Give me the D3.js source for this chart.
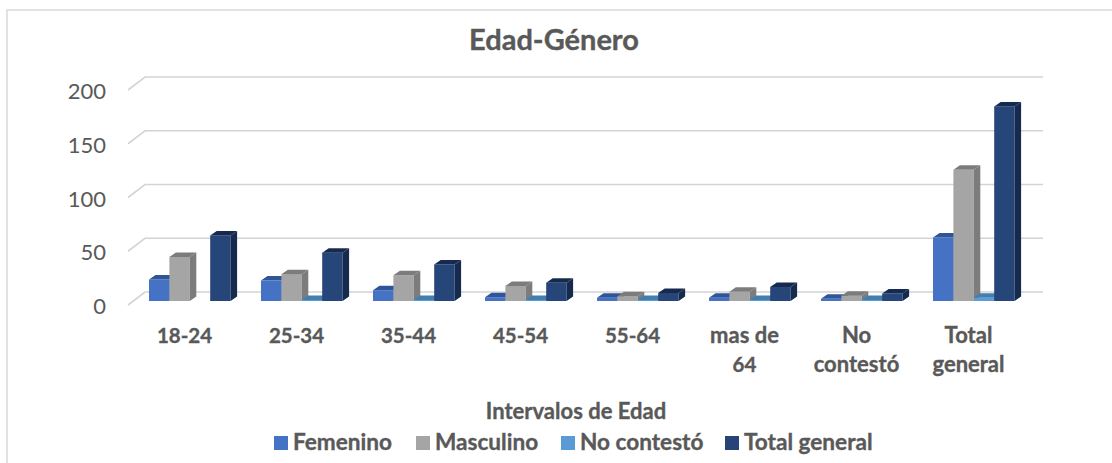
<!DOCTYPE html>
<html>
  <head>
    <meta charset="utf-8" />
    <title>Edad-Género</title>
    <script src="https://d3js.org/d3.v7.min.js"></script>
    <style>
      body { margin: 0; background: #fff; overflow: hidden; }
      svg { display: block; }
      text { font-family: Lato, "Open Sans", sans-serif; fill: #595959; }
      .bold { font-weight: 700; stroke: #595959; stroke-width: 0.35px; }
    </style>
  </head>
  <body>
    <svg id="chart" width="1112" height="463"></svg>
    <script>
      // values
      var categories = ["18-24", "25-34", "35-44", "45-54", "55-64", "mas de 64", "No contestó", "Total general"];
      var seriesNames = ["Femenino", "Masculino", "No contestó", "Total general"];
      var femenino = [20, 19, 10, 3.5, 3, 3, 2, 59];
      var masculino = [41, 25, 24, 14, 4.5, 8.5, 5, 122];
      var noContesto = [0, 1, 1, 1, 1, 1, 1, 3];
      var totalGeneral = [61, 45, 34, 17, 7.5, 13, 7, 181];
      var yTicks = [0, 50, 100, 150, 200];

      var seriesValues = [femenino, masculino, noContesto, totalGeneral];
      // front, top, side colours of each series
      var seriesColors = [
        ["#4472c4", "#2f5597", "#2f5597"],
        ["#a5a5a5", "#7c7c7c", "#7c7c7c"],
        ["#5b9bd5", "#3f7fb0", "#3f7fb0"],
        ["#264478", "#172c50", "#172c50"]
      ];

      var svg = d3.select("#chart");

      // the original is a soft, slightly blurred picture
      svg.append("filter").attr("id", "soft")
        .append("feGaussianBlur").attr("stdDeviation", 0.5);

      // chart frame, its right and bottom edges fall outside the picture
      svg.append("rect")
        .attr("x", 7).attr("y", 10)
        .attr("width", 1120).attr("height", 470)
        .attr("fill", "#fff").attr("stroke", "#d9d9d9").attr("stroke-width", 1.5);

      svg.append("text")
        .attr("class", "bold")
        .attr("x", 554).attr("y", 50)
        .attr("text-anchor", "middle")
        .style("font-size", "29px")
        .text("Edad-Género");

      var x = d3.scaleBand().domain(categories).range([128.5, 1024.5]).padding(0);
      var y = d3.scaleLinear().domain([0, 200]).range([301, 86]);

      // 3d offsets: floor depth of the wall, and depth of one bar
      var wallDx = 17, wallDy = -13;
      var barDx = 6.5, barDy = -4.5;
      var barWidth = 20.4;
      var wallX0 = 128, wallX1 = 1043;

      var grid = svg.append("g").attr("filter", "url(#soft)");
      yTicks.forEach(function(t) {
        var front = y(t) + 4;
        grid.append("path")
          .attr("d", "M" + wallX0 + "," + front + "L" + (wallX0 + wallDx) + "," + (front + wallDy) + "L" + wallX1 + "," + (front + wallDy))
          .attr("fill", "none").attr("stroke", "#d4d4d4").attr("stroke-width", 1.6);
        svg.append("text")
          .attr("x", 106).attr("y", front + 9)
          .attr("text-anchor", "end")
          .style("font-size", "22px")
          .text(t);
      });

      // bars, back to front within a group
      var bars = svg.append("g").attr("filter", "url(#soft)");
      categories.forEach(function(cat, c) {
        seriesValues.forEach(function(values, s) {
          var v = values[c];
          if (v <= 0) return;
          var x0 = x(cat) + 20.5 + s * barWidth;
          var x1 = x0 + barWidth;
          var y0 = y(0);
          var yT = y(v);
          var g = bars.append("g");
          g.append("rect").attr("x", x0).attr("y", yT)
            .attr("width", barWidth).attr("height", y0 - yT)
            .attr("fill", seriesColors[s][0]);
          g.append("path")
            .attr("d", "M" + x0 + "," + yT + "L" + (x0 + barDx) + "," + (yT + barDy) + "L" + (x1 + barDx) + "," + (yT + barDy) + "L" + x1 + "," + yT + "Z")
            .attr("fill", seriesColors[s][1]);
          g.append("path")
            .attr("d", "M" + x1 + "," + yT + "L" + (x1 + barDx) + "," + (yT + barDy) + "L" + (x1 + barDx) + "," + (y0 + barDy) + "L" + x1 + "," + y0 + "Z")
            .attr("fill", seriesColors[s][2]);
        });
      });

      // category labels, wrapped in two lines like the original
      categories.forEach(function(cat) {
        var parts = cat == "mas de 64" ? ["mas de", "64"] : cat == "No contestó" ? ["No", "contestó"] : cat == "Total general" ? ["Total", "general"] : [cat];
        parts.forEach(function(p, i) {
          svg.append("text")
            .attr("class", "bold")
            .attr("x", x(cat) + x.bandwidth() / 2)
            .attr("y", 343 + i * 29)
            .attr("text-anchor", "middle")
            // Lato digits run wide, so the number-only labels stay a bit smaller
            .style("font-size", /^[0-9-]+$/.test(p) ? "20.5px" : "22px")
            .text(p);
        });
      });

      svg.append("text")
        .attr("class", "bold")
        .attr("x", 576).attr("y", 419)
        .attr("text-anchor", "middle")
        .style("font-size", "22px")
        .text("Intervalos de Edad");

      // legend
      var legendX = [274, 416, 561, 725];
      seriesNames.forEach(function(name, i) {
        svg.append("rect")
          .attr("x", legendX[i]).attr("y", 436)
          .attr("width", 14).attr("height", 14)
          .attr("fill", seriesColors[i][0]);
        svg.append("text")
          .attr("class", "bold")
          .attr("x", legendX[i] + 19).attr("y", 450)
          .style("font-size", "22.6px")
          .text(name);
      });
    </script>
  </body>
</html>
